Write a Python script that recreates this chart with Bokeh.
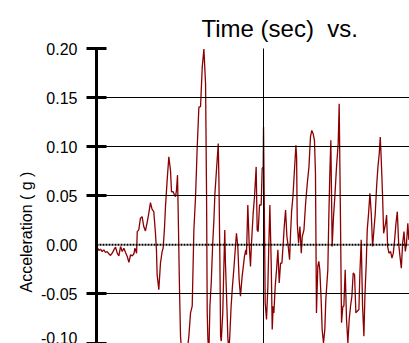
from bokeh.plotting import figure
from bokeh.models import Range1d, FixedTicker, Span, Title, NumeralTickFormatter, Grid
from bokeh.embed import file_html
from bokeh.resources import INLINE

# ---- data ----
time_s = [0.08, 0.14, 0.24, 0.34, 0.44, 0.54, 0.64, 0.74, 0.84, 0.94, 1.04, 1.14, 1.24, 1.34, 1.44,
          1.54, 1.64, 1.74, 1.84, 1.94, 2.04, 2.14, 2.24, 2.30, 2.40, 2.44, 2.53, 2.63, 2.73, 2.83,
          2.93, 3.03, 3.13, 3.23, 3.33, 3.43, 3.53, 3.59, 3.63, 3.73, 3.83, 3.93, 3.99, 4.07, 4.13,
          4.23, 4.33, 4.43, 4.49, 4.59, 4.67, 4.73, 4.79, 4.85, 4.91, 4.97, 5.03, 5.23, 5.53, 5.63,
          5.73, 5.83, 5.93, 6.03, 6.13, 6.23, 6.33, 6.43, 6.53, 6.59, 6.63, 6.67, 6.73, 6.79, 6.87,
          6.95, 7.03, 7.09, 7.17, 7.29, 7.33, 7.39, 7.43, 7.47, 7.56, 7.62, 7.68, 7.72, 7.82, 7.86,
          7.92, 7.98, 8.06, 8.14, 8.22, 8.32, 8.38, 8.46, 8.54, 8.62, 8.72, 8.86, 8.94, 8.98, 9.06,
          9.14, 9.22, 9.28, 9.38, 9.46, 9.56, 9.62, 9.68, 9.76, 9.86, 9.92, 9.98, 10.00, 10.06, 10.10,
          10.18, 10.26, 10.32, 10.38, 10.46, 10.52, 10.58, 10.62, 10.70, 10.78, 10.86, 10.94, 11.02,
          11.10, 11.18, 11.24, 11.32, 11.40, 11.48, 11.56, 11.62, 11.68, 11.76, 11.84, 11.94, 11.98,
          12.02, 12.10, 12.18, 12.26, 12.32, 12.42, 12.52, 12.62, 12.72, 12.81, 12.89, 12.97, 13.05,
          13.11, 13.17, 13.25, 13.31, 13.37, 13.45, 13.51, 13.59, 13.67, 13.73, 13.85, 13.91, 13.97,
          14.03, 14.11, 14.19, 14.27, 14.37, 14.47, 14.53, 14.61, 14.67, 14.75, 14.81, 14.89, 14.97,
          15.05, 15.13, 15.21, 15.29, 15.37, 15.45, 15.53, 15.61, 15.71, 15.77, 15.85, 15.93, 16.01,
          16.07, 16.15, 16.21, 16.29, 16.37, 16.45, 16.53, 16.61, 16.69, 16.77, 16.85, 16.93, 16.99,
          17.05, 17.13, 17.19, 17.25, 17.31, 17.37, 17.43, 17.51, 17.61, 17.69, 17.77, 17.85, 17.93,
          18.01, 18.09, 18.17, 18.25, 18.33, 18.41, 18.49, 18.56, 18.64, 18.70, 18.80]
accel_g = [-0.0034, -0.0057, -0.0044, -0.0068, -0.0051, -0.0078, -0.0068, -0.0091, -0.0108, -0.0085,
           -0.0051, -0.0024, -0.0085, -0.0112, -0.0017, -0.0068, -0.0034, -0.0078, -0.0118, -0.0179,
           -0.0101, -0.0112, -0.0091, -0.0034, -0.0085, 0.0135, 0.0152, 0.0270, 0.0287, 0.0186,
           0.0142, 0.0226, 0.0321, 0.0429, 0.0362, 0.0338, 0.0118, -0.0051, -0.0304, -0.0456,
           -0.0186, -0.0068, -0.0034, 0.0169, 0.0389, 0.0659, 0.0896, 0.0761, 0.0541, 0.0541,
           0.0507, 0.0490, 0.0558, 0.0710, 0.0152, -0.0456, -0.0930, -0.1400, -0.0930, -0.0693,
           -0.0625, 0.0152, 0.0490, 0.0997, 0.1403, 0.1409, 0.1808, 0.1994, 0.1639, 0.0490,
           -0.0693, -0.0963, -0.1100, -0.0625, -0.0389, -0.0017, 0.0254, 0.0524, 0.0727, 0.1031,
           0.0659, -0.0186, -0.0930, -0.0980, -0.0693, -0.0254, 0.0152, -0.0186, -0.0693, -0.0930,
           -0.1100, -0.0930, -0.0625, -0.0423, -0.0254, -0.0017, 0.0118, -0.0017, -0.0355, -0.0524,
           -0.0321, -0.0118, -0.0051, -0.0101, 0.0406, 0.0017, -0.0220, 0.0017, 0.0321, 0.0490,
           0.0794, 0.0152, 0.0135, 0.0406, 0.0406, 0.0777, 0.0794, 0.1200, 0.0152, -0.0592,
           -0.0761, -0.0423, 0.0017, 0.0406, -0.0186, -0.0862, -0.0625, -0.0693, -0.0423, -0.0254,
           -0.0051, -0.0389, -0.0186, -0.0186, 0.0017, 0.0186, 0.0355, 0.0085, -0.0017, -0.0152,
           0.0118, 0.0338, 0.0490, 0.0727, 0.1014, 0.0896, 0.0220, 0.0017, 0.0186, -0.0085,
           0.0085, 0.0152, 0.0423, 0.0625, 0.0794, 0.1099, 0.1166, 0.1132, 0.1065, 0.0727,
           -0.0693, -0.0220, -0.0169, -0.0254, -0.0558, -0.0862, -0.1000, -0.0862, -0.0558, -0.0254,
           0.0287, 0.0727, 0.1065, -0.0017, 0.0287, 0.0490, 0.0794, 0.1031, 0.1436, 0.0220,
           -0.0794, -0.0625, -0.0625, -0.0254, -0.0761, -0.1000, -0.0761, -0.0625, -0.0524, -0.0287,
           -0.0304, -0.0693, -0.0676, -0.0659, -0.0287, 0.0051, -0.0625, -0.0930, -0.0524, -0.0186,
           0.0152, 0.0321, 0.0524, 0.0321, -0.0017, 0.0152, 0.0321, 0.0592, 0.0794, 0.0930,
           0.1099, 0.0862, 0.0490, 0.0118, 0.0169, 0.0220, 0.0304, -0.0017, -0.0085, -0.0068,
           -0.0135, -0.0085, 0.0051, 0.0220, 0.0338, 0.0017, -0.0118, -0.0237, 0.0017, 0.0135,
           -0.0068, 0.0017, 0.0220, 0.0051, 0.0100]
y_ticks = [-0.10, -0.05, 0.00, 0.05, 0.10, 0.15, 0.20]
y_grid_ticks = [-0.10, -0.05, 0.05, 0.10, 0.15, 0.20]
x_grid_ticks = [10]
title_text = "Time (sec)\u00a0\u00a0vs."
y_label_text = "Acceleration ( g )"

FONT = "Liberation Sans"

p = figure(width=409, height=343, output_backend="svg", toolbar_location=None,
           x_range=Range1d(0, 18.74), y_range=Range1d(-0.1005, 0.20),
           x_axis_location=None,
           min_border_left=96, min_border_right=0, min_border_top=48, min_border_bottom=0)
p.outline_line_color = None
p.grid.grid_line_color = None

# title
p.title.text = title_text
p.title.text_font = FONT
p.title.text_font_size = "24px"
p.title.text_font_style = "normal"
p.title.text_color = "black"
p.title.align = "left"
p.title.vertical_align = "top"
p.title.offset = 105
p.title.standoff = 10

# y axis
ax = p.yaxis[0]
ax.ticker = FixedTicker(ticks=y_ticks, minor_ticks=y_grid_ticks)
ax.formatter = NumeralTickFormatter(format="0.00")
ax.axis_line_width = 3
ax.axis_line_color = "black"
ax.major_tick_line_color = None
ax.major_tick_out = 10
ax.major_tick_in = 0
ax.minor_tick_line_color = "black"
ax.minor_tick_line_width = 3
ax.minor_tick_in = 10
ax.minor_tick_out = 10
ax.major_label_standoff = 9
ax.major_label_text_font = FONT
ax.major_label_text_font_size = "16px"
ax.major_label_text_color = "black"

# y axis title, on the left as its own title
p.add_layout(Title(text=y_label_text, text_font=FONT, text_font_size="16px",
                   text_font_style="normal", text_color="black",
                   align="left", offset=51, standoff=8), "left")

p.line(time_s, accel_g, line_color="#8B0000", line_width=1.3)

p.add_layout(Grid(dimension=1, ticker=FixedTicker(ticks=y_grid_ticks),
                  grid_line_color="black", grid_line_width=1, level="overlay"))
p.add_layout(Grid(dimension=0, ticker=FixedTicker(ticks=x_grid_ticks),
                  grid_line_color="black", grid_line_width=1, level="overlay"))
p.add_layout(Span(location=0, dimension="width", line_color="black",
                  line_width=2, line_dash="2 1", level="overlay"))

open("out.html", "w").write(file_html(p, INLINE))
